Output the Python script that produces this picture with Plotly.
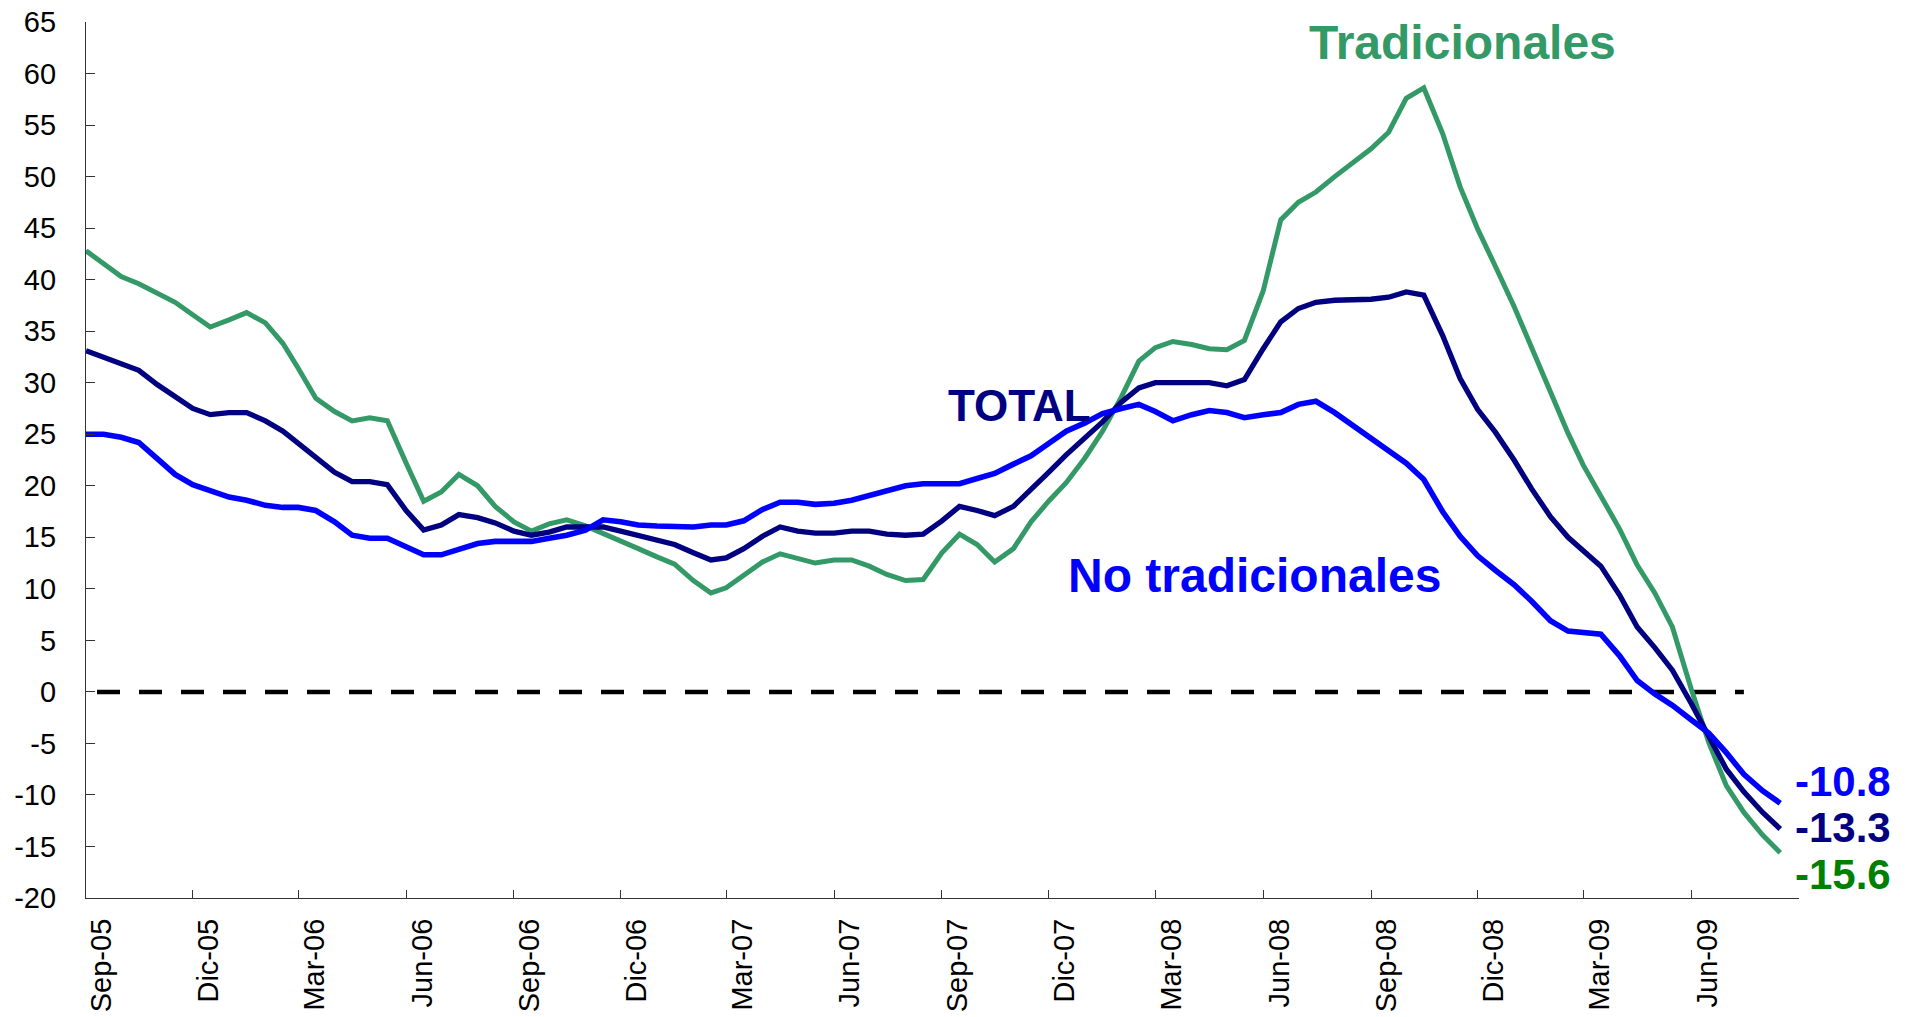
import plotly.graph_objects as go

# Semi-monthly observation dates: Sep-2005 .. Aug-2009 (1st and 16th of each month)
dates = []
for yr in range(2005, 2010):
    for mo in range(1, 13):
        if (yr, mo) < (2005, 9) or (yr, mo) > (2009, 8):
            continue
        dates.append(f"{yr}-{mo:02d}-01")
        dates.append(f"{yr}-{mo:02d}-16")

tradicionales = [
    42.8, 41.5, 40.3, 39.6, 38.7, 37.8, 36.6, 35.4, 36.1, 36.8,
    35.8, 33.8, 31.4, 28.5, 27.2, 26.3, 26.6, 26.3, 22.2, 18.5,
    19.4, 21.1, 20.0, 18.0, 16.5, 15.6, 16.3, 16.7, 16.1, 15.4,
    14.7, 13.9, 13.1, 12.4, 10.8, 9.6, 10.1, 11.3, 12.6, 13.4,
    13.0, 12.5, 12.8, 12.8, 12.2, 11.4, 10.8, 10.9, 13.5, 15.3,
    14.3, 12.6, 13.9, 16.5, 18.5, 20.3, 22.7, 25.3, 28.6, 32.1,
    33.4, 34.0, 33.7, 33.3, 33.2, 34.1, 38.9, 45.8, 47.5, 48.5,
    50.0, 51.3, 52.7, 54.3, 57.6, 58.6, 54.2, 49.0, 44.9, 41.3,
    37.4, 33.4, 29.1, 25.1, 22.0, 19.1, 15.8, 12.3, 9.6, 6.3,
    0.3, -4.9, -9.1, -11.7, -13.9, -15.6,
]

total = [
    33.1, 32.5, 31.9, 31.2, 29.8, 28.6, 27.5, 26.9, 27.1, 27.1,
    26.3, 25.3, 24.1, 22.7, 21.3, 20.4, 20.4, 20.1, 17.6, 15.7,
    16.2, 17.2, 16.9, 16.4, 15.6, 15.2, 15.5, 16.0, 16.0, 16.0,
    15.6, 15.2, 14.8, 14.3, 13.5, 12.8, 13.0, 13.9, 15.1, 16.0,
    15.6, 15.4, 15.4, 15.6, 15.6, 15.3, 15.2, 15.3, 16.6, 18.0,
    17.6, 17.1, 18.0, 19.6, 21.3, 23.0, 24.6, 26.2, 28.1, 29.5,
    30.0, 30.0, 30.0, 30.0, 29.7, 30.3, 33.3, 35.9, 37.2, 37.8,
    38.0, 38.0, 38.1, 38.3, 38.8, 38.5, 34.6, 30.4, 27.4, 25.2,
    22.5, 19.7, 17.0, 15.0, 13.7, 12.2, 9.4, 6.3, 4.3, 2.1,
    -1.1, -4.3, -7.5, -9.7, -11.7, -13.3,
]

no_tradicionales = [
    25.0, 25.0, 24.7, 24.2, 22.6, 21.1, 20.1, 19.5, 18.9, 18.6,
    18.1, 17.9, 17.9, 17.6, 16.5, 15.2, 14.9, 14.9, 14.0, 13.3,
    13.3, 13.8, 14.4, 14.6, 14.6, 14.6, 14.9, 15.2, 15.7, 16.7,
    16.5, 16.2, 16.1, 16.0, 16.0, 16.2, 16.2, 16.6, 17.7, 18.4,
    18.4, 18.2, 18.3, 18.6, 19.1, 19.6, 20.0, 20.2, 20.2, 20.2,
    20.7, 21.2, 22.1, 22.9, 24.1, 25.3, 26.1, 27.0, 27.5, 27.9,
    27.2, 26.3, 26.9, 27.3, 27.1, 26.6, 26.9, 27.1, 27.9, 28.2,
    27.1, 25.9, 24.6, 23.3, 22.2, 20.6, 17.5, 15.1, 13.2, 11.8,
    10.4, 8.8, 6.9, 5.9, 5.8, 5.6, 3.5, 1.1, -0.2, -1.3,
    -2.7, -4.0, -5.9, -8.0, -9.6, -10.8,
]

zero_dates = ["2005-09-01", "2009-07-16"]
zero_values = [0, 0]

xtick_vals = ["2005-09-01", "2005-12-01", "2006-03-01", "2006-06-01", "2006-09-01",
              "2006-12-01", "2007-03-01", "2007-06-01", "2007-09-01", "2007-12-01",
              "2008-03-01", "2008-06-01", "2008-09-01", "2008-12-01", "2009-03-01",
              "2009-06-01"]
xtick_text = ["Sep-05", "Dic-05", "Mar-06", "Jun-06", "Sep-06", "Dic-06", "Mar-07",
              "Jun-07", "Sep-07", "Dic-07", "Mar-08", "Jun-08", "Sep-08", "Dic-08",
              "Mar-09", "Jun-09"]
ytick_vals = [-20, -15, -10, -5, 0, 5, 10, 15, 20, 25, 30, 35, 40, 45, 50, 55, 60, 65]
ytick_text = [str(v) for v in ytick_vals]

FONT = "Liberation Sans, Arial, sans-serif"
C_TRAD = "#339966"
C_TOTAL = "#000080"
C_NOTRAD = "#0000FF"

fig = go.Figure()
fig.add_trace(go.Scatter(x=zero_dates, y=zero_values, mode="lines",
                         line=dict(color="black", width=4.5, dash="0px,11px,23px,8px"),
                         showlegend=False, hoverinfo="skip"))
fig.add_trace(go.Scatter(x=dates, y=tradicionales, mode="lines", name="Tradicionales",
                         line=dict(color=C_TRAD, width=5), showlegend=False))
fig.add_trace(go.Scatter(x=dates, y=total, mode="lines", name="TOTAL",
                         line=dict(color=C_TOTAL, width=5.3), showlegend=False))
fig.add_trace(go.Scatter(x=dates, y=no_tradicionales, mode="lines", name="No tradicionales",
                         line=dict(color=C_NOTRAD, width=5.6), showlegend=False))

annots = [
    dict(x="2008-11-18", y=63.0, text="<b>Tradicionales</b>", color=C_TRAD, size=48, xanchor="center"),
    dict(x="2007-11-06", y=27.8, text="<b>TOTAL</b>", color=C_TOTAL, size=44, xanchor="center"),
    dict(x="2008-05-25", y=11.3, text="<b>No tradicionales</b>", color=C_NOTRAD, size=48, xanchor="center"),
    dict(x="2009-08-27", y=-8.7, text="<b>-10.8</b>", color=C_NOTRAD, size=42, xanchor="left"),
    dict(x="2009-08-27", y=-13.2, text="<b>-13.3</b>", color=C_TOTAL, size=42, xanchor="left"),
    dict(x="2009-08-27", y=-17.7, text="<b>-15.6</b>", color="#008000", size=42, xanchor="left"),
]
for a in annots:
    fig.add_annotation(x=a["x"], y=a["y"], text=a["text"], showarrow=False,
                       xanchor=a["xanchor"], yanchor="middle",
                       font=dict(family=FONT, size=a["size"], color=a["color"]))

# the page body adds an 8px offset; the figure is sized to fit the window
fig.update_layout(
    width=1906, height=1009,
    margin=dict(l=78, r=115, t=14, b=119, autoexpand=False),
    paper_bgcolor="white", plot_bgcolor="white",
    font=dict(family=FONT, size=29, color="black"),
    showlegend=False,
)
fig.update_xaxes(
    type="date", range=["2005-09-01", "2009-09-01"], automargin=False,
    tickvals=xtick_vals, ticktext=xtick_text, tickangle=-90,
    ticks="inside", ticklen=8, tickwidth=1, tickcolor="#333333",
    showline=True, linecolor="#333333", linewidth=1.3,
    showgrid=False, zeroline=False,
    tickfont=dict(family=FONT, size=29, color="black"),
    ticklabelstandoff=8, ticklabelshift=16, ticklabeloverflow="allow",
)
fig.update_yaxes(
    range=[-20, 65], tickvals=ytick_vals, ticktext=ytick_text, automargin=False,
    ticks="inside", ticklen=9, tickwidth=1, tickcolor="#333333",
    showline=True, linecolor="#333333", linewidth=1.3,
    showgrid=False, zeroline=False,
    tickfont=dict(family=FONT, size=29, color="black"),
    ticklabelstandoff=23, ticklabeloverflow="allow",
)

fig.write_html("out.html")
